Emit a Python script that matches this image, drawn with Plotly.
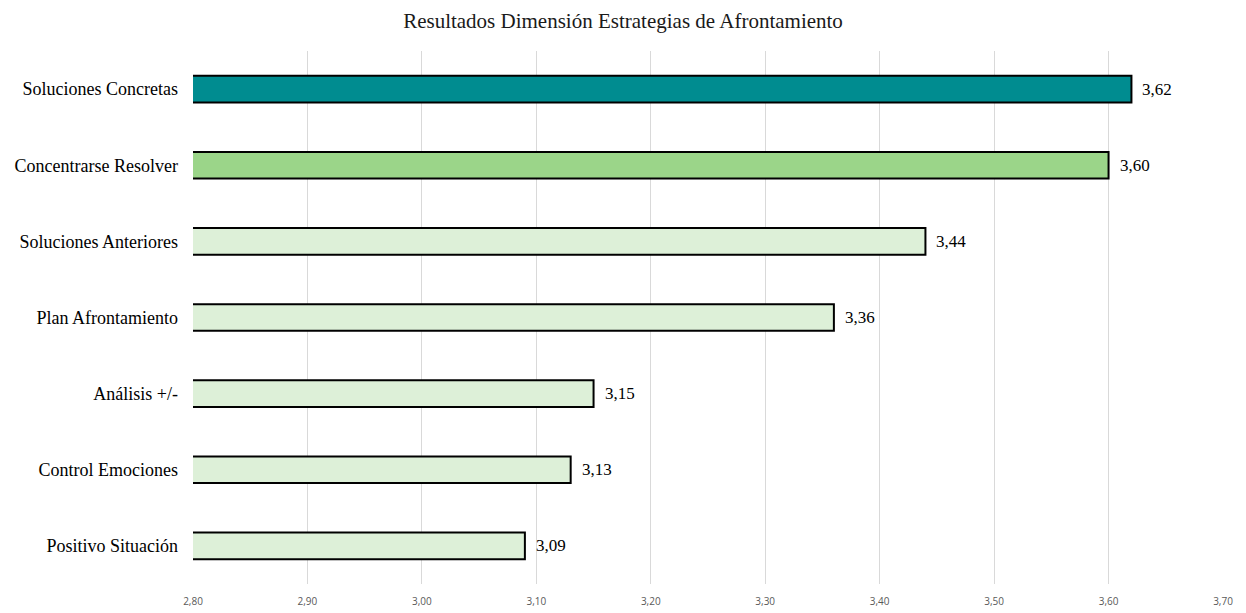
import plotly.graph_objects as go

# Coping-strategy results (mean scores), bottom-to-top order for the horizontal bars
categories = [
    "Positivo Situación",
    "Control Emociones",
    "Análisis +/-",
    "Plan Afrontamiento",
    "Soluciones Anteriores",
    "Concentrarse Resolver",
    "Soluciones Concretas",
]
values = [3.09, 3.13, 3.15, 3.36, 3.44, 3.60, 3.62]
bar_colors = ["#DDF0D8", "#DDF0D8", "#DDF0D8", "#DDF0D8", "#DDF0D8", "#9BD589", "#008C90"]
x_ticks = [2.8, 2.9, 3.0, 3.1, 3.2, 3.3, 3.4, 3.5, 3.6, 3.7]

serif = "Liberation Serif, Times New Roman, serif"
labels = [f"{v:.2f}".replace(".", ",") for v in values]

fig = go.Figure(
    go.Bar(
        x=values,
        y=categories,
        orientation="h",
        base=0,
        width=0.35,
        marker=dict(color=bar_colors, line=dict(color="#000000", width=2)),
        hoverinfo="x+y",
    )
)

# value labels just to the right of each bar end
for cat, v, lab in zip(categories, values, labels):
    fig.add_annotation(
        x=v,
        y=cat,
        text=lab,
        showarrow=False,
        xanchor="left",
        yanchor="middle",
        xshift=9,
        font=dict(family=serif, size=17, color="#000000"),
    )

fig.update_layout(
    width=1246,
    height=613,
    margin=dict(l=193, r=23, t=51, b=29),
    paper_bgcolor="#FFFFFF",
    plot_bgcolor="#FFFFFF",
    separators=",.",
    showlegend=False,
    title=dict(
        text="Resultados Dimensión Estrategias de Afrontamiento",
        x=0.5,
        xanchor="center",
        xref="container",
        y=0.966,
        yanchor="middle",
        font=dict(family=serif, size=21, color="#1a1a1a"),
    ),
    xaxis=dict(
        range=[2.8, 3.7],
        tickvals=x_ticks,
        tickformat=".2f",
        showgrid=True,
        gridcolor="#D9D9D9",
        gridwidth=1,
        zeroline=False,
        showline=False,
        ticks="",
        ticklabelstandoff=10,
        automargin=False,
        tickfont=dict(family="Open Sans, sans-serif", size=10, color="#595959"),
    ),
    yaxis=dict(
        showgrid=False,
        zeroline=False,
        showline=False,
        ticks="",
        ticklabelstandoff=14,
        automargin=False,
        tickfont=dict(family=serif, size=18, color="#000000"),
    ),
)

fig.write_html("out.html")
